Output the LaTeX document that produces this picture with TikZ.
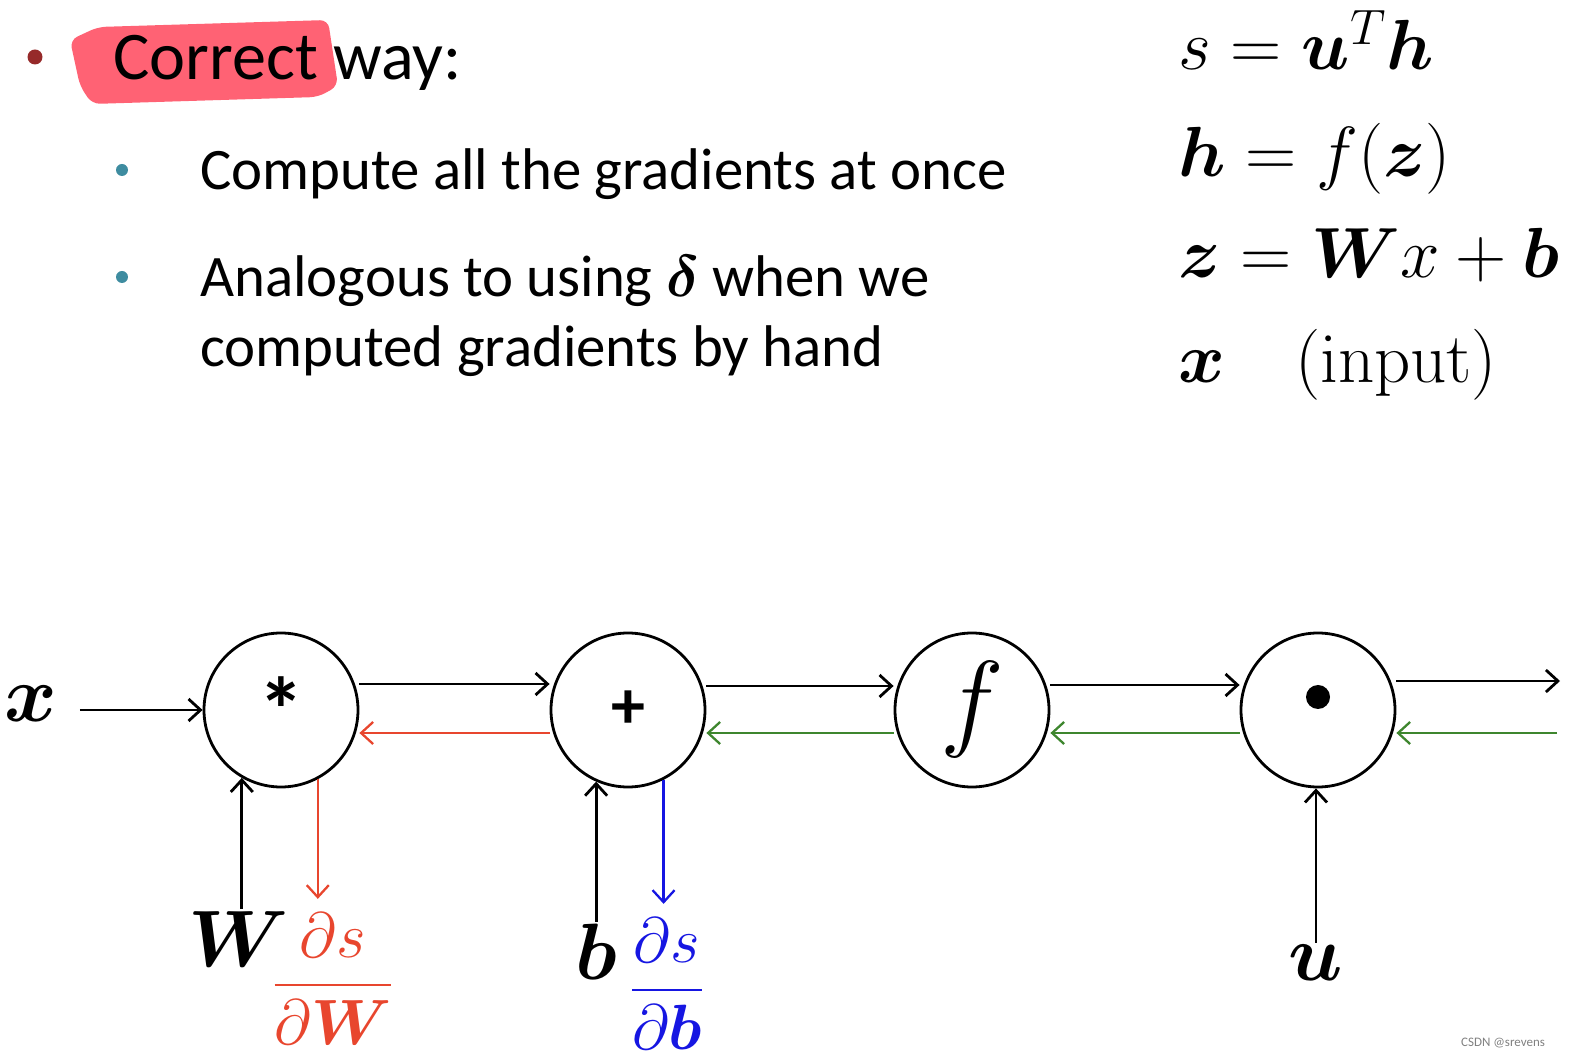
\RequirePackage{fix-cm}
\documentclass[tikz,border=0pt]{standalone}
\usepackage{amsmath,amssymb,bm}
\usepackage[no-math]{fontspec}
\setmainfont{Carlito}
\usepackage{tikz}
\usetikzlibrary{arrows.meta,positioning}
\definecolor{hilite}{RGB}{255,98,116}
\definecolor{dotred}{RGB}{150,42,42}
\definecolor{dotteal}{RGB}{62,140,160}
\definecolor{gradred}{RGB}{232,70,46}
\definecolor{gradblue}{RGB}{22,22,226}
\definecolor{gradgreen}{RGB}{62,134,46}
\tikzset{
  >={Straight Barb[length=6pt,width=11pt]},
  op/.style  ={draw, circle, line width=1.4pt, minimum size=77pt, inner sep=0pt},
  fw/.style  ={->, line width=1.4pt},
  bk/.style  ={->, line width=1.15pt},
  var/.style ={inner sep=1pt, font=\fontsize{40}{44}\selectfont},
  grad/.style={inner sep=1pt, anchor=base, font=\fontsize{32}{36}\selectfont},
  eq/.style  ={anchor=base west, inner sep=0pt, font=\fontsize{35.5}{40}\selectfont},
  tx/.style  ={anchor=base west, inner sep=0pt, font=\fontsize{29.4}{34}\selectfont}
}

\begin{document}
\begin{tikzpicture}[x=0.5pt,y=-0.5pt]
\useasboundingbox (0,0) rectangle (1576,1063);
% slide text
\fill[hilite, rounded corners=4pt] (70,40) -- (98,27) -- (328,20) -- (338,86) -- (318,97) -- (92,104) -- (80,86) -- cycle;
\fill[dotred] (35,57) circle (7.5);
\node[tx, font=\fontsize{34.1}{38}\selectfont] (head) at (113,80) {Correct way:};
\fill[dotteal] (122,170) circle (6);
\fill[dotteal] (122,277) circle (6);
\node[tx] (l1) at (200,190) {Compute all the gradients at once};
\node[tx] (l2) at (200,297) {Analogous to using $\boldsymbol{\delta}$ when we};
\node[tx] (l3) at (200,367) {computed gradients by hand};

\node[eq] (e1) at (1178,70)  {$s = \bm{u}^T\bm{h}$};
\node[eq] (e2) at (1178,177) {$\bm{h} = f(\bm{z})$};
\node[eq] (e3) at (1178,278) {$\bm{z} = \bm{W}x + \bm{b}$};
\node[eq] (e4) at (1178,383) {$\bm{x}$};
\node[eq] (inp) at (1295,383) {$(\mathrm{input})$};

% graph
\node[op] (mul) at (281,710) {\fontsize{46}{46}\selectfont\bfseries\raisebox{-2pt}{*}};
\node[op] (add) at (628,710) {\fontsize{34}{34}\selectfont\bfseries +};
\node[op] (fn)  at (972,710) {\fontsize{54}{54}\selectfont $f$};
\node[op] (dot) at (1318,710) {};
\fill ([yshift=6.5pt]dot.center) circle (6pt);

\node[var] (x) at (31,704)  {$\bm{x}$};
\node[var] (W) at (239,939) {$\bm{W}$};
\node[var] (b) at (596,952) {$\bm{b}$};
\node[var] (u) at (1316,963) {$\bm{u}$};
\node[grad, text=gradred]  (dW) at (333,1001) {$\dfrac{\partial s}{\partial\bm{W}}$};
\node[grad, text=gradblue] (db) at (667,1006) {$\dfrac{\partial s}{\partial\bm{b}}$};
\coordinate (outF) at (1560,681);
\coordinate (outB) at (1557,733);

\draw[fw, shorten <=10pt] (x.east |- mul) -- (mul.west);
\draw[fw] ([yshift=13pt]mul.east) -- ([yshift=13pt]add.west);
\draw[fw] ([yshift=12pt]add.east) -- ([yshift=12pt]fn.west);
\draw[fw] ([yshift=12.5pt]fn.east) -- ([yshift=12.5pt]dot.west);
\draw[fw] ([yshift=14.5pt]dot.east) -- (outF);

\draw[bk, gradred]   ([yshift=-11.5pt]add.west) -- ([yshift=-11.5pt]mul.east);
\draw[bk, gradgreen] ([yshift=-11.5pt]fn.west) -- ([yshift=-11.5pt]add.east);
\draw[bk, gradgreen] ([yshift=-11.5pt]dot.west) -- ([yshift=-11.5pt]fn.east);
\draw[bk, gradgreen] (outB) -- ([yshift=-11.5pt]dot.east);

\draw[fw] (W.north -| mul.240) -- (mul.240);
\draw[bk, gradred, shorten >=6pt] (mul.298) -- (mul.298 |- dW.north);
\draw[fw] (b.north -| add.246) -- (add.246);
\draw[bk, gradblue, shorten >=6pt] (add.297) -- (add.297 |- db.north);
\draw[fw] (u.north) -- (u.north |- dot.south);

\node[anchor=east, text=gray, font=\fontsize{6.5}{7}\selectfont] (wm) at (1552,1043) {CSDN @srevens};
\end{tikzpicture}
\end{document}
